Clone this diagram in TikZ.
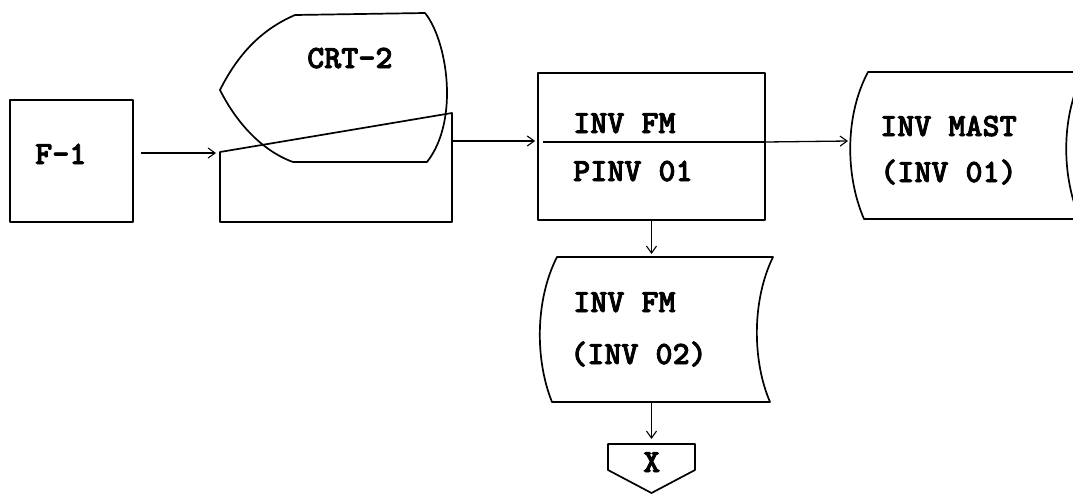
\documentclass[tikz,border=0pt]{standalone}
\usepackage{fontspec}
\newfontfamily\tw{lmmonolt10-bold}[Extension=.otf]
\newcommand\emb[1]{\special{pdf:literal direct 2 Tr 0.8 w}#1\special{pdf:literal direct 0 Tr}}
\usetikzlibrary{arrows.meta}
\begin{document}
\begin{tikzpicture}[x=1pt,y=-1pt,
  shapeline/.style={line width=1.7pt, line join=round},
  conn/.style={line width=1.3pt, -{Straight Barb[length=7pt,width=10pt,line width=1.1pt]}},
  lbl/.style={anchor=base west, inner sep=0pt, font=\tw\fontsize{32.5}{36}\selectfont}]
\useasboundingbox (0,0) rectangle (1073,496);
\clip (0,0) rectangle (1073,496);

% F-1 box
\node[shapeline, draw, minimum width=123pt, minimum height=122pt, inner sep=0pt] (f1) at (71.5,161) {};
\node[lbl] (f1t) at (35,164) {\emb{F-1}};

% CRT-2 display
\draw[shapeline] (220,90) .. controls (240,50) and (265,28) .. (295,15) -- (425,13)
  .. controls (447,40) and (460,120) .. (427,162) -- (293,162)
  .. controls (260,150) and (235,120) .. (220,90) -- cycle;
\draw[shapeline] (220,152) -- (452,113) -- (452,222) -- (220,222) -- cycle;
\node[lbl] (crtt) at (307,68) {\emb{CRT-2}};
\coordinate (crtin) at (220,153);
\coordinate (crtout) at (452,141);

% process box
\node[shapeline, draw, minimum width=227pt, minimum height=147pt, inner sep=0pt] (proc) at (651.5,146.5) {};
\coordinate (divl) at (543,142);
\draw[shapeline] (divl) -- (divl -| proc.east);
\node[lbl] (proct1) at (573,133) {\emb{INV FM}};
\node[lbl] (proct2) at (573,181) {\emb{PINV 01}};

% INV MAST storage
\draw[shapeline] (868,72) -- (1084,72) .. controls (1061,115) and (1061,175) .. (1080,219)
  -- (864,219) .. controls (845,175) and (845,115) .. (868,72) -- cycle;
\coordinate (mastin) at (848,141);
\node[lbl] (mastt1) at (880,136) {\emb{INV MAST}};
\node[lbl] (mastt2) at (880,182) {\emb{(INV 01)}};

% INV FM storage
\draw[shapeline] (557,257) -- (773,257) .. controls (752,300) and (752,360) .. (770,402)
  -- (552,402) .. controls (535,360) and (535,300) .. (557,257) -- cycle;
\coordinate (fm2top) at (651.5,257);
\coordinate (fm2bot) at (651.5,402);
\node[lbl] (fm2t1) at (573,312) {\emb{INV FM}};
\node[lbl] (fm2t2) at (570,364) {\emb{(INV 02)}};

% off-page connector X
\draw[shapeline] (608,444) -- (695,444) -- (695,470) -- (651.5,493) -- (608,470) -- cycle;
\coordinate (xtop) at (651.5,444);
\node[lbl] (xt) at (643,472) {\emb{X}};

% connectors
\draw[conn, shorten <=7pt, shorten >=4pt] (f1.east |- crtin) -- (crtin);
\draw[conn, shorten >=2pt] (crtout) -- (crtout -| proc.west);
\draw[conn] (proc.east |- divl) -- (mastin);
\draw[conn, shorten >=3pt] (proc.south) -- (fm2top);
\draw[conn, shorten >=5pt] (fm2bot) -- (xtop);
\end{tikzpicture}
\end{document}
